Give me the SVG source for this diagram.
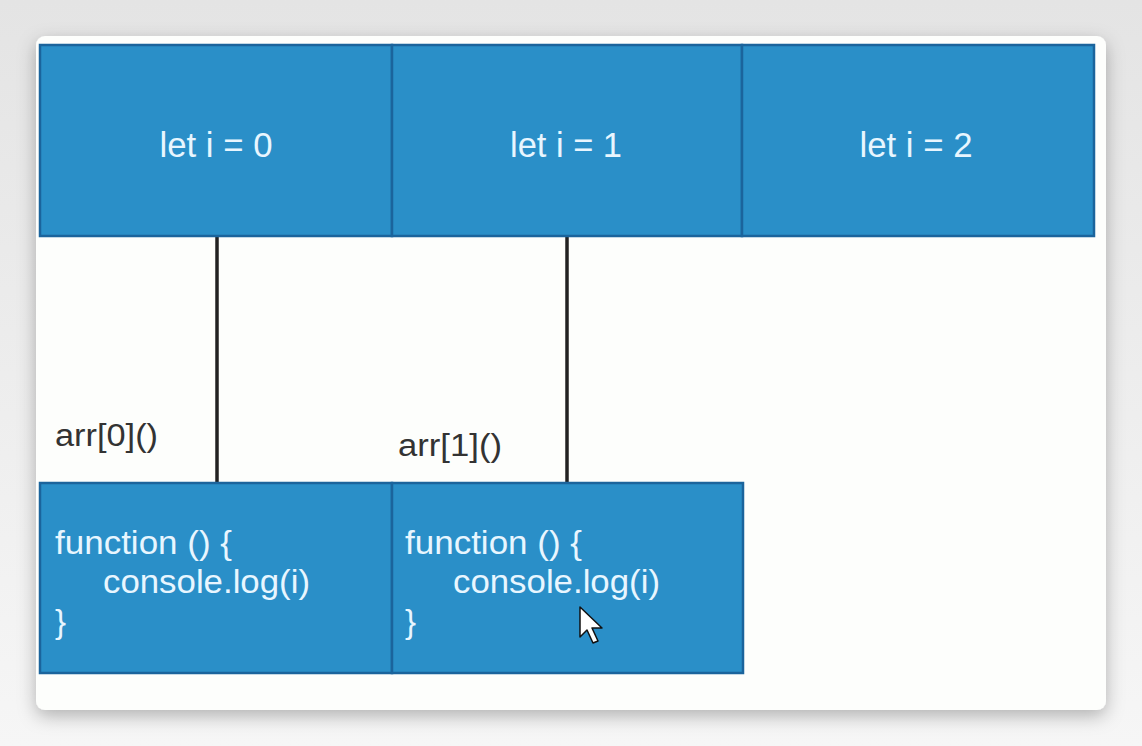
<svg xmlns="http://www.w3.org/2000/svg" width="1142" height="746" viewBox="0 0 1142 746">
  <defs>
    <filter id="shadow" x="-10%" y="-10%" width="120%" height="125%">
      <feDropShadow dx="0" dy="6" stdDeviation="9" flood-color="#000" flood-opacity="0.28"/>
    </filter>
    <linearGradient id="bg" x1="0" y1="0" x2="0" y2="1">
      <stop offset="0" stop-color="#e4e4e4"/>
      <stop offset="1" stop-color="#f6f6f6"/>
    </linearGradient>
  </defs>
  <style>
    .box { fill: #2a8fc8; stroke: #1b649c; stroke-width: 2.5; }
    .head { font-family: "Liberation Sans", Arial, sans-serif; font-size: 35px; fill: #e8f6ff; text-anchor: middle; }
    .code { font-family: "Liberation Sans", Arial, sans-serif; font-size: 33px; fill: #e8f6ff; }
    .label { font-family: "Liberation Sans", Arial, sans-serif; font-size: 31px; fill: #333333; }
    .conn { stroke: #222222; stroke-width: 3.5; fill: none; }
  </style>
  <rect x="0" y="0" width="1142" height="746" fill="url(#bg)"/>
  <rect id="card" x="36" y="36" width="1070" height="674" rx="9" fill="#fdfefc" filter="url(#shadow)"/>

  <g id="connectors">
    <line class="conn" x1="217" y1="237" x2="217" y2="483"/>
    <line class="conn" x1="567" y1="236" x2="567" y2="483"/>
  </g>

  <g id="let0">
    <rect class="box" x="40" y="45" width="352" height="191"/>
    <text class="head" x="216" y="157" textLength="113" lengthAdjust="spacingAndGlyphs">let i = 0</text>
  </g>
  <g id="let1">
    <rect class="box" x="392" y="45" width="350" height="191"/>
    <text class="head" x="566" y="157" textLength="112" lengthAdjust="spacingAndGlyphs">let i = 1</text>
  </g>
  <g id="let2">
    <rect class="box" x="742" y="45" width="352" height="191"/>
    <text class="head" x="916" y="157" textLength="113" lengthAdjust="spacingAndGlyphs">let i = 2</text>
  </g>

  <g id="label0">
    <text class="label" x="55" y="446" textLength="103" lengthAdjust="spacingAndGlyphs">arr[0]()</text>
  </g>
  <g id="label1">
    <text class="label" x="398" y="456" textLength="104" lengthAdjust="spacingAndGlyphs">arr[1]()</text>
  </g>

  <g id="func0">
    <rect class="box" x="40" y="483" width="352" height="190"/>
    <text class="code" x="55" y="554" textLength="177" lengthAdjust="spacingAndGlyphs">function () {</text>
    <text class="code" x="103" y="593" textLength="207" lengthAdjust="spacingAndGlyphs">console.log(i)</text>
    <text class="code" x="55" y="633">}</text>
  </g>
  <g id="func1">
    <rect class="box" x="392" y="483" width="351" height="190"/>
    <text class="code" x="405" y="554" textLength="177" lengthAdjust="spacingAndGlyphs">function () {</text>
    <text class="code" x="453" y="593" textLength="207" lengthAdjust="spacingAndGlyphs">console.log(i)</text>
    <text class="code" x="405" y="633">}</text>
  </g>

  <g id="cursor">
    <polygon points="580,607 580,637 587,630 593,643 598,641 592,628 602,628" fill="#ffffff" stroke="#111111" stroke-width="1.5" stroke-linejoin="round"/>
  </g>
</svg>
